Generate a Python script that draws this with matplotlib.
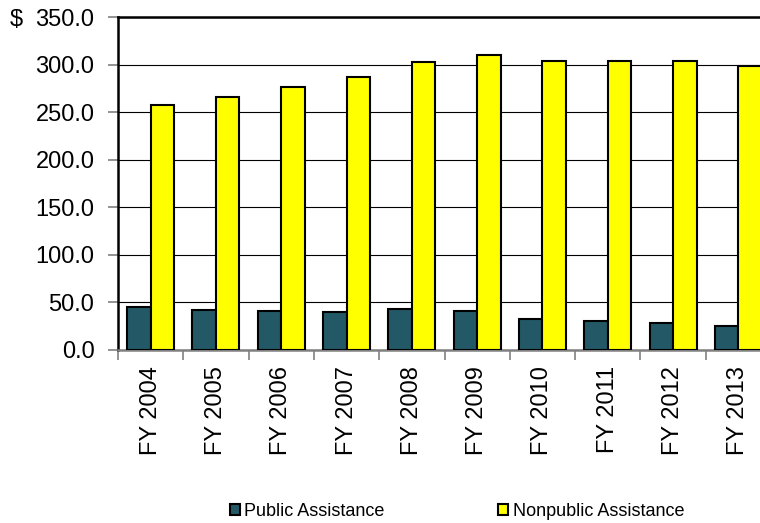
import matplotlib
matplotlib.use("Agg")
import matplotlib.pyplot as plt
import numpy as np
from matplotlib.ticker import FixedLocator

plt.rcParams['font.family'] = ['Liberation Sans', 'DejaVu Sans']

categories = ["FY 2004", "FY 2005", "FY 2006", "FY 2007", "FY 2008",
              "FY 2009", "FY 2010", "FY 2011", "FY 2012", "FY 2013"]
public = [44.5, 42.0, 40.3, 40.0, 42.6, 40.7, 31.8, 30.4, 28.3, 25.1]
nonpublic = [257.5, 265.8, 276.9, 286.8, 302.7, 310.0, 303.7, 303.7, 303.7, 298.7]
yticks = [0, 50, 100, 150, 200, 250, 300, 350]
series_names = ["Public Assistance", "Nonpublic Assistance"]
colors = ["#235966", "#FFFF00"]

fig = plt.figure(figsize=(7.6, 5.23), dpi=100)
L, R, B, T = 118, 771, 349.5, 17.3
W, H = 760, 523
ax = fig.add_axes([L / W, 1 - B / H, (R - L) / W, (B - T) / H])

x = np.arange(len(categories))
bw = 0.36
b1 = ax.bar(x + 0.5 - bw, public, width=bw, align='edge', color=colors[0],
            edgecolor='black', linewidth=1.5, zorder=3, label=series_names[0])
b2 = ax.bar(x + 0.5, nonpublic, width=bw, align='edge', color=colors[1],
            edgecolor='black', linewidth=1.5, zorder=3, label=series_names[1])

ax.set_xlim(0, len(categories))
ax.set_ylim(0, 350)
ax.set_yticks(yticks)
ax.set_yticklabels([f"{v:.1f}" for v in yticks], fontsize=17)
ax.yaxis.grid(True, color='black', linewidth=0.8, zorder=0)
ax.set_axisbelow(True)

ax.set_xticks(x + 0.5)
ax.set_xticklabels(categories, rotation=90, fontsize=17)
ax.xaxis.set_minor_locator(FixedLocator(np.arange(len(categories) + 1)))
ax.tick_params(axis='x', which='major', length=0, pad=12)
ax.tick_params(axis='x', which='minor', length=7, width=1.2, color='#808080')
ax.tick_params(axis='y', length=7, width=1.2, color='#808080', pad=10)

for s in ['left', 'top']:
    ax.spines[s].set_color('black')
    ax.spines[s].set_linewidth(1.8)
ax.spines['bottom'].set_color('#808080')
ax.spines['bottom'].set_linewidth(1.8)
ax.spines['right'].set_visible(False)

fig.text(10 / W, 1 - 26 / H, "$", fontsize=17, va='baseline', ha='left')

fig.legend(handles=[b1, b2], labels=series_names, loc='center',
           bbox_to_anchor=(457 / W, 1 - 511 / H), ncol=2, frameon=False,
           fontsize=13, handlelength=0.55, handleheight=0.55,
           handletextpad=0.25, columnspacing=6.3)

fig.savefig("out.png", dpi=100)
